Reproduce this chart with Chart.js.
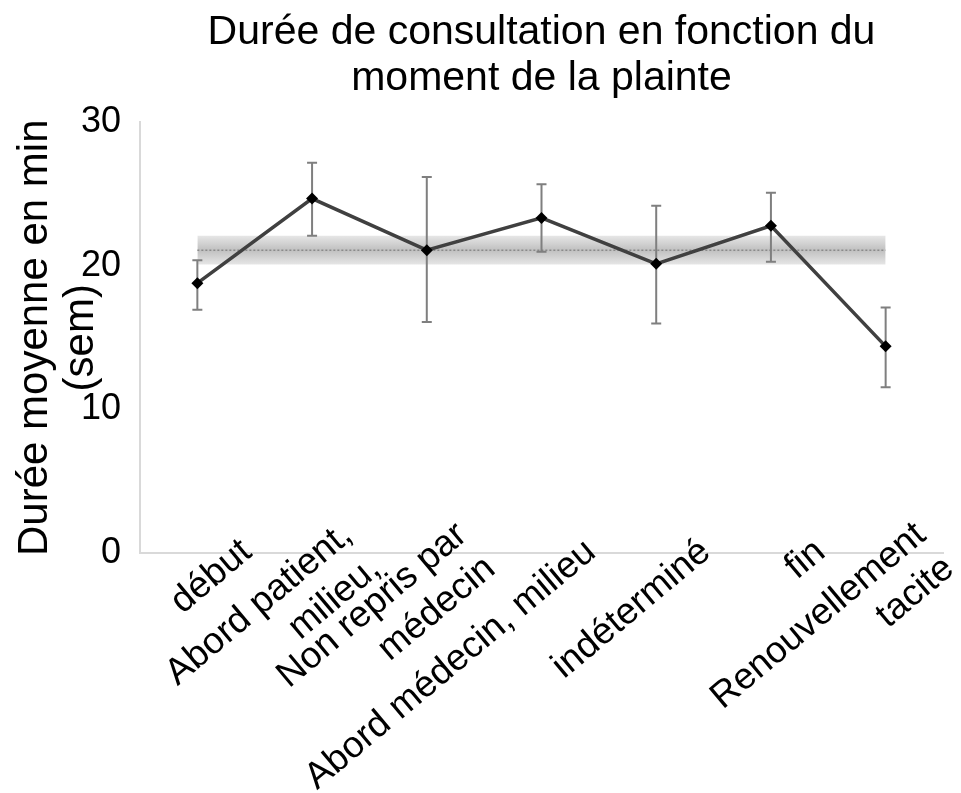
<!DOCTYPE html>
<html><head><meta charset="utf-8">
<script src="https://cdn.jsdelivr.net/npm/chart.js@4.4.1/dist/chart.umd.min.js"></script>
<style>html,body{margin:0;padding:0;background:#fff}#wrap{width:961px;height:793px;position:relative}</style>
</head><body><div id="wrap"><canvas id="c"></canvas></div>
<script>
const categories = ["début", ["Abord patient,", "milieu,"], ["Non repris par", "médecin"], "Abord médecin, milieu", "indéterminé", "fin", ["Renouvellement", "tacite"]];
const meanDuration = [18.8, 24.7, 21.1, 23.35, 20.15, 22.8, 14.4];
const semLow = [16.95, 22.1, 16.1, 21.0, 16.0, 20.3, 11.55];
const semHigh = [20.4, 27.2, 26.2, 25.7, 24.2, 25.1, 17.1];
const overallMean = [21.1, 21.1, 21.1, 21.1, 21.1, 21.1, 21.1];
const overallLow = [20.1, 20.1, 20.1, 20.1, 20.1, 20.1, 20.1];
const overallHigh = [22.1, 22.1, 22.1, 22.1, 22.1, 22.1, 22.1];
const yTickValues = [0, 10, 20, 30];

const FONT = '"Liberation Sans", Arial, sans-serif';

const errorBarPlugin = {
  id: 'errorBars',
  beforeDatasetDraw(chart, args) {
    if (args.index !== 0) return;
    const {ctx, scales: {x, y}} = chart;
    ctx.save();
    ctx.strokeStyle = '#7f7f7f';
    ctx.lineWidth = 2;
    const cap = 5;
    meanDuration.forEach((v, i) => {
      const px = x.getPixelForValue(i);
      const yl = y.getPixelForValue(semLow[i]);
      const yh = y.getPixelForValue(semHigh[i]);
      ctx.beginPath();
      ctx.moveTo(px, yl); ctx.lineTo(px, yh);
      ctx.moveTo(px - cap, yl); ctx.lineTo(px + cap, yl);
      ctx.moveTo(px - cap, yh); ctx.lineTo(px + cap, yh);
      ctx.stroke();
    });
    ctx.restore();
  }
};

const xLabelPlugin = {
  id: 'xLabels',
  afterDraw(chart) {
    const {ctx, scales: {x}, chartArea} = chart;
    ctx.save();
    ctx.font = '37px ' + FONT;
    ctx.fillStyle = '#000';
    ctx.textAlign = 'right';
    ctx.textBaseline = 'alphabetic';
    const lh = 44;
    categories.forEach((lab, i) => {
      const lines = Array.isArray(lab) ? lab : [lab];
      const px = x.getPixelForValue(i);
      ctx.save();
      ctx.translate(px + 56, chartArea.bottom + 2);
      ctx.rotate(-40 * Math.PI / 180);
      lines.forEach((t, j) => ctx.fillText(t, 0, (j - (lines.length - 1) / 2) * lh));
      ctx.restore();
    });
    ctx.restore();
  }
};

function bandGradient(context) {
  const chart = context.chart;
  const {ctx, chartArea, scales} = chart;
  if (!chartArea) return 'rgba(200,200,200,0.6)';
  const y = scales.y;
  const top = y.getPixelForValue(overallHigh[0]);
  const bot = y.getPixelForValue(overallLow[0]);
  const g = ctx.createLinearGradient(0, top, 0, bot);
  g.addColorStop(0, '#e6e6e6');
  g.addColorStop(0.5, '#c0c0c0');
  g.addColorStop(1, '#e6e6e6');
  return g;
}

new Chart(document.getElementById('c'), {
  type: 'line',
  data: {
    labels: categories,
    datasets: [
      {
        label: 'Durée moyenne',
        data: meanDuration,
        borderColor: '#404040',
        borderWidth: 3.5,
        pointStyle: 'rectRot',
        pointRadius: 6,
        pointBackgroundColor: '#000',
        pointBorderColor: '#000',
        pointBorderWidth: 0,
        tension: 0,
        order: 0
      },
      {
        label: 'low',
        data: overallLow,
        borderWidth: 0,
        pointRadius: 0,
        fill: false,
        order: 3
      },
      {
        label: 'high',
        data: overallHigh,
        borderWidth: 0,
        pointRadius: 0,
        fill: '-1',
        backgroundColor: bandGradient,
        order: 2
      },
      {
        label: 'moyenne',
        data: overallMean,
        borderColor: '#8a8a8a',
        borderWidth: 1.5,
        borderDash: [2, 2],
        pointRadius: 0,
        fill: false,
        order: 1
      }
    ]
  },
  options: {
    responsive: true,
    maintainAspectRatio: false,
    animation: false,
    devicePixelRatio: 1,
    layout: {padding: {left: 0, right: 18, top: 0, bottom: 0}},
    plugins: {
      legend: {display: false},
      tooltip: {enabled: false},
      title: {
        display: true,
        text: ['Durée de consultation en fonction du', 'moment de la plainte'],
        color: '#000',
        font: {family: FONT, size: 41, weight: 'normal', lineHeight: 1.14},
        padding: {top: 9, bottom: 20},
        fullSize: false
      }
    },
    scales: {
      x: {
        type: 'category',
        offset: true,
        grid: {display: false},
        border: {display: true, color: '#d9d9d9', width: 2},
        ticks: {display: false},
        afterFit(s) { s.height = 240; }
      },
      y: {
        min: 0,
        max: 30,
        afterBuildTicks(s) { s.ticks = yTickValues.map(v => ({value: v})); },
        grid: {display: false},
        border: {display: true, color: '#d9d9d9', width: 2},
        ticks: {color: '#000', font: {family: FONT, size: 36}, padding: 11},
        title: {
          display: true,
          text: ['Durée moyenne en min', '(sem)'],
          color: '#000',
          font: {family: FONT, size: 42, lineHeight: 1.08},
          padding: {top: 13, bottom: 0}
        },
        afterFit(s) { s.width = 140; }
      }
    }
  },
  plugins: [errorBarPlugin, xLabelPlugin]
});
</script>
</body></html>
